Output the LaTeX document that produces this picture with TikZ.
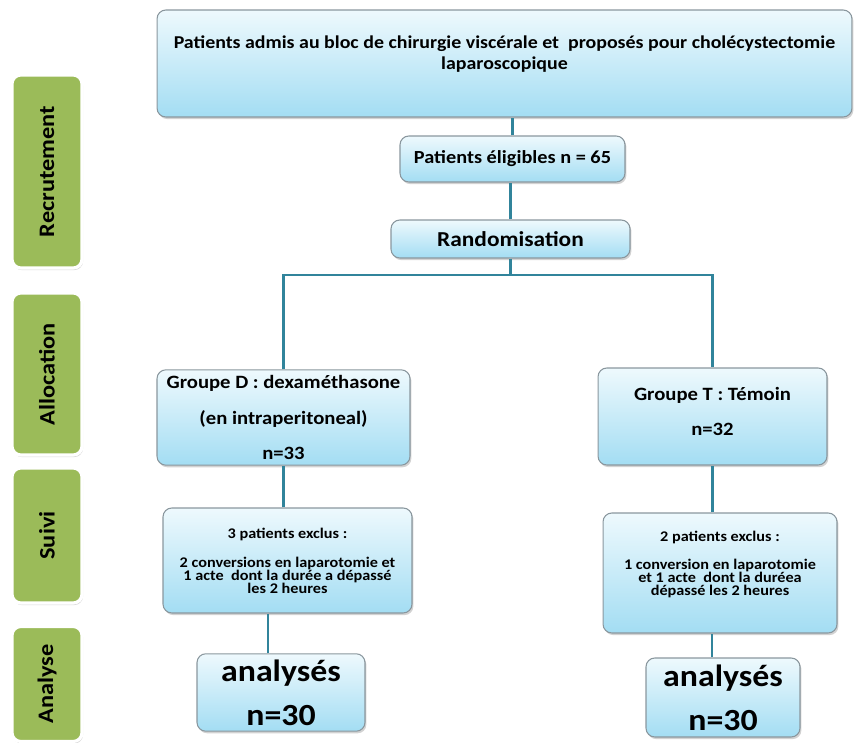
\documentclass[tikz,border=0pt]{standalone}
\usepackage{fontspec}
\setmainfont{Carlito}[FakeStretch=1.1]
\usetikzlibrary{shadows}

\definecolor{boxtop}{HTML}{EEF9FD}
\definecolor{boxbot}{HTML}{A3DDF3}
\definecolor{boxline}{HTML}{8A979E}
\definecolor{phasegreen}{HTML}{9BBB59}
\definecolor{linkblue}{HTML}{31849B}

\newcommand{\tightlines}{\lineskiplimit=-20pt\relax}

\tikzset{
  box/.style={draw=boxline, line width=0.6pt, rounded corners=5pt,
    top color=boxtop, bottom color=boxbot, align=center,
    drop shadow={shadow xshift=0.8pt, shadow yshift=-1.2pt, fill=black!35}},
  phase/.style={draw=white, line width=1.8pt, fill=phasegreen, rounded corners=5pt,
    minimum width=1.4cm, font=\bfseries\fontsize{12.6}{14}\selectfont,
    drop shadow={shadow xshift=0.6pt, shadow yshift=-1.2pt, fill=black!30}},
  link/.style={draw=linkblue, line width=1.2pt},
  small/.style={font=\bfseries\fontsize{8.4}{7.3}\selectfont\tightlines}
}

\begin{document}
\begin{tikzpicture}[x=0.02cm, y=-0.02cm]
\useasboundingbox (0,0) rectangle (856,743);

% phases
\node[phase, minimum height=3.86cm] (recrut) at (47,171.5) {\rotatebox{90}{Recrutement}};
\node[phase, minimum height=3.24cm] (alloc) at (47,374) {\rotatebox{90}{Allocation}};
\node[phase, minimum height=2.7cm] (suivi) at (47,535.5) {\rotatebox{90}{Suivi}};
\node[phase, minimum height=2.3cm] (analyse) at (47,684) {\rotatebox{90}{Analyse}};

% boxes
\node[box, minimum width=13.9cm, minimum height=2.14cm, font=\bfseries\fontsize{10.3}{12}\selectfont] (admis) at (504.5,63.5)
  {Patients admis au bloc de chirurgie viscérale et~ proposés pour cholécystectomie\\laparoscopique\\ \mbox{}};
\node[box, minimum width=4.5cm, minimum height=0.92cm, font=\bfseries\fontsize{10.5}{12}\selectfont] (elig) at (512.5,159)
  {Patients éligibles n = 65};
\node[box, minimum width=4.78cm, minimum height=0.76cm, font=\bfseries\fontsize{12.1}{14}\selectfont] (rand) at (510.5,239)
  {Randomisation};
\node[box, minimum width=5.06cm, minimum height=1.9cm, font=\bfseries\fontsize{10.7}{13}\selectfont] (grpD) at (283.5,417.5)
  {Groupe D : dexaméthasone\\[7pt](en intraperitoneal)\\[7pt]n=33};
\node[box, minimum width=4.58cm, minimum height=1.94cm, font=\bfseries\fontsize{10.7}{13}\selectfont] (grpT) at (712.5,416.5)
  {Groupe T : Témoin\\[7pt]n=32\\[-7pt]\mbox{}};
\node[box, minimum width=4.98cm, minimum height=2.1cm, small] (exclD) at (287.5,560.5)
  {3 patients exclus :\\[9.5pt]2 conversions en laparotomie et\\1 acte~ dont la durée a dépassé\\les 2 heures};
\node[box, minimum width=4.68cm, minimum height=2.4cm, small] (exclT) at (720,573)
  {2 patients exclus :\\[9pt]1 conversion en laparotomie\\et 1 acte~ dont la duréea\\dépassé les 2 heures\\[4pt]\mbox{}};
\node[box, minimum width=3.36cm, minimum height=1.5cm, font=\bfseries\fontsize{17.5}{21}\selectfont] (analD) at (281,692.5)
  {analysés\\[4pt]n=30};
\node[box, minimum width=3.08cm, minimum height=1.58cm, font=\bfseries\fontsize{17.5}{21}\selectfont] (analT) at (723,697.5)
  {analysés\\[4pt]n=30};

% connectors
\coordinate (fork) at (510.5,275);
\draw[link] (elig.north) -- (elig.north |- admis.south);
\draw[link] (rand.north) -- (rand.north |- elig.south);
\draw[link] (rand.south) -- (fork);
\draw[link] (grpD.north) |- (fork) -| (grpT.north);
\draw[link] (exclD.north -| grpD.south) -- (grpD.south);
\draw[link] (exclT.north -| grpT.south) -- (grpT.south);
\draw[link] ([xshift=-0.26cm]analD.north) -- ([xshift=-0.26cm]analD.north |- exclD.south);
\draw[link] ([xshift=-0.22cm]analT.north) -- ([xshift=-0.22cm]analT.north |- exclT.south);
\end{tikzpicture}
\end{document}
